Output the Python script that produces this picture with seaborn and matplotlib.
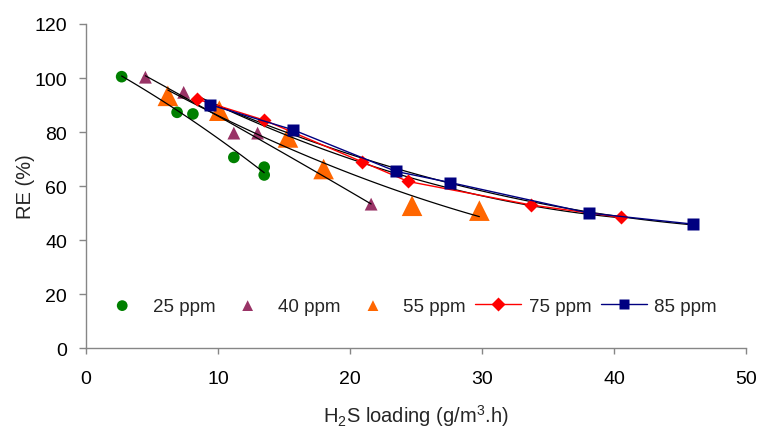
import numpy as np
import seaborn as sns
import matplotlib.pyplot as plt

# Datos: carga de H2S (g/m3.h) y eficiencia de remocion (%)
x_25 = [2.7, 6.9, 8.1, 11.2, 13.5, 13.5]
y_25 = [100.5, 87.3, 86.7, 70.6, 67.0, 64.1]

x_40 = [4.5, 7.4, 11.2, 13.0, 21.6]
y_40 = [100.3, 94.7, 79.6, 79.6, 53.3]

x_55 = [6.2, 10.1, 15.3, 18.0, 24.7, 29.8]
y_55 = [93.4, 87.9, 78.0, 66.3, 52.7, 50.9]

x_75 = [8.4, 13.5, 20.9, 24.4, 33.7, 40.5]
y_75 = [92.2, 84.4, 69.0, 61.7, 53.0, 48.4]

x_85 = [9.4, 15.7, 23.5, 27.6, 38.1, 46.0]
y_85 = [90.1, 80.8, 65.4, 61.3, 50.0, 45.9]

sns.set_style('white')
plt.rcParams['font.family'] = ['Liberation Sans', 'DejaVu Sans']
plt.rcParams['mathtext.fontset'] = 'custom'
plt.rcParams['mathtext.rm'] = 'Liberation Sans'
plt.rcParams['mathtext.it'] = 'Liberation Sans'

fig, ax = plt.subplots(figsize=(7.57, 4.31), dpi=100)
fig.subplots_adjust(left=0.1136, right=0.9855, top=0.942, bottom=0.19)

# Lineas de tendencia (polinomio de orden 2, como en Excel)
for xs, ys in [(x_25, y_25), (x_40, y_40), (x_55, y_55), (x_75, y_75), (x_85, y_85)]:
    sns.regplot(x=xs, y=ys, order=2, scatter=False, ci=None, truncate=True,
                line_kws={'color': 'black', 'lw': 0.9}, ax=ax)

sns.scatterplot(x=x_25, y=y_25, color='#008000', marker='o', s=70,
                edgecolor='none', label='25 ppm', ax=ax)
sns.scatterplot(x=x_40, y=y_40, color='#993366', marker='^', s=85,
                edgecolor='none', label='40 ppm', ax=ax)
sns.scatterplot(x=x_55, y=y_55, color='#FF6600', marker='^', s=220,
                edgecolor='none', label='55 ppm', ax=ax)
sns.lineplot(x=x_75, y=y_75, color='#FF0000', marker='D', markersize=7,
             markeredgecolor='none', lw=1, label='75 ppm', ax=ax)
sns.lineplot(x=x_85, y=y_85, color='#000080', marker='s', markersize=8,
             markeredgecolor='none', lw=1, label='85 ppm', ax=ax)

ax.set_xlim(0, 50)
ax.set_ylim(0, 120)
ax.set_xticks(range(0, 51, 10))
ax.set_yticks(range(0, 121, 20))
ax.set_xlabel(r'H$_\mathrm{2}$S loading (g/m$^\mathrm{3}$.h)', fontsize=14.5, labelpad=11)
ax.set_ylabel('RE (%)', fontsize=14.5, labelpad=0)

sns.despine(ax=ax)
for sp in ['left', 'bottom']:
    ax.spines[sp].set_color('#868686')
    ax.spines[sp].set_linewidth(1)
ax.tick_params(axis='both', which='major', labelsize=14, colors='black',
               direction='out', width=1, color='#868686',
               bottom=True, left=True)
ax.tick_params(axis='x', length=4.5, pad=11)
ax.tick_params(axis='y', length=5, pad=8.5)

leg = ax.legend(loc='center', bbox_to_anchor=(0.488, 0.13), ncol=5,
                frameon=False, fontsize=13.5, handlelength=2.45,
                columnspacing=0.5, handletextpad=0.4)
for h in leg.legend_handles:
    if hasattr(h, 'set_markersize'):
        h.set_markersize(7)
    else:
        h.set_sizes([60])

plt.savefig('out.png', dpi=100)
